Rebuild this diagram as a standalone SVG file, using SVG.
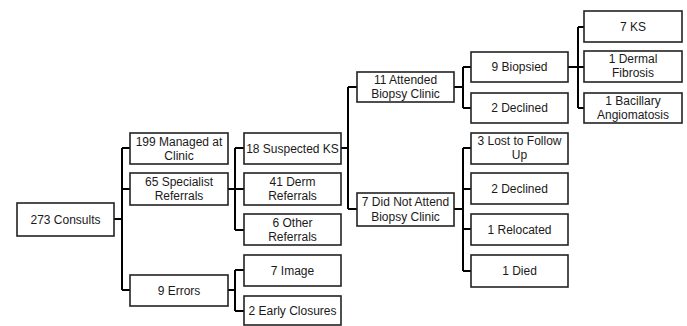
<svg xmlns="http://www.w3.org/2000/svg" width="687" height="326" viewBox="0 0 687 326">
<style>
.b{fill:#fff;stroke:#222;stroke-width:1.6}
.t{font-family:"Liberation Sans",Arial,sans-serif;font-size:12px;fill:#1a1a1a;text-anchor:middle}
.c{fill:none;stroke:#000;stroke-width:2}
</style>
<rect width="687" height="326" fill="#fff"/>
<g id="connectors">
<path class="c" d="M114,219H122M122,148V290M122,148H130M122,189H130M122,290H130" stroke-width="2"/>
<path class="c" d="M114,219H122" stroke-width="3"/>
<path class="c" d="M228,189H235M235,148V230M235,148H244M235,189H244M235,230H244"/>
<path class="c" d="M228,290H235M235,270V311M235,270H244M235,311H244"/>
<path class="c" d="M341,148H348M348,87V209M348,87H357M348,209H357"/>
<path class="c" d="M454,87H463M463,67V108M463,67H471M463,108H471"/>
<path class="c" d="M568,67H578M578,27V108M578,27H584M578,67H584M578,108H584"/>
<path class="c" d="M454,209H463M463,148V271M463,148H471M463,189H471M463,229H471M463,271H471"/>
</g>
<g id="n273"><rect class="b" x="17" y="203" width="97" height="33"/><text class="t" x="65.5" y="224">273 Consults</text></g>
<g id="n199"><rect class="b" x="130" y="133" width="98" height="31"/><text class="t" x="179" y="146">199 Managed at</text><text class="t" x="179" y="160">Clinic</text></g>
<g id="n65"><rect class="b" x="130" y="173" width="98" height="32"/><text class="t" x="179" y="186">65 Specialist</text><text class="t" x="179" y="200">Referrals</text></g>
<g id="n9err"><rect class="b" x="130" y="275" width="98" height="31"/><text class="t" x="179" y="295">9 Errors</text></g>
<g id="n18"><rect class="b" x="244" y="133" width="97" height="31"/><text class="t" x="292.5" y="153">18 Suspected KS</text></g>
<g id="n41"><rect class="b" x="244" y="173" width="97" height="32"/><text class="t" x="292.5" y="186">41 Derm</text><text class="t" x="292.5" y="200">Referrals</text></g>
<g id="n6"><rect class="b" x="244" y="214" width="97" height="31"/><text class="t" x="292.5" y="227">6 Other</text><text class="t" x="292.5" y="241">Referrals</text></g>
<g id="n7img"><rect class="b" x="244" y="255" width="97" height="31"/><text class="t" x="292.5" y="275">7 Image</text></g>
<g id="n2early"><rect class="b" x="244" y="296" width="97" height="29"/><text class="t" x="292.5" y="315">2 Early Closures</text></g>
<g id="n11"><rect class="b" x="357" y="72" width="97" height="30"/><text class="t" x="405.5" y="84">11 Attended</text><text class="t" x="405.5" y="98">Biopsy Clinic</text></g>
<g id="n7dna"><rect class="b" x="357" y="193" width="97" height="33"/><text class="t" x="405.5" y="206">7 Did Not Attend</text><text class="t" x="405.5" y="221">Biopsy Clinic</text></g>
<g id="n9b"><rect class="b" x="471" y="52" width="97" height="30"/><text class="t" x="519.5" y="71">9 Biopsied</text></g>
<g id="n2dec"><rect class="b" x="471" y="93" width="97" height="30"/><text class="t" x="519.5" y="112">2 Declined</text></g>
<g id="n7ks"><rect class="b" x="584" y="11" width="98" height="31"/><text class="t" x="633" y="31">7 KS</text></g>
<g id="n1df"><rect class="b" x="584" y="51" width="98" height="31"/><text class="t" x="633" y="63">1 Dermal</text><text class="t" x="633" y="77">Fibrosis</text></g>
<g id="n1ba"><rect class="b" x="584" y="93" width="98" height="30"/><text class="t" x="633" y="105">1 Bacillary</text><text class="t" x="633" y="119">Angiomatosis</text></g>
<g id="n3lost"><rect class="b" x="471" y="133" width="97" height="31"/><text class="t" x="519.5" y="145">3 Lost to Follow</text><text class="t" x="519.5" y="159">Up</text></g>
<g id="n2dec2"><rect class="b" x="471" y="173" width="97" height="31"/><text class="t" x="519.5" y="193">2 Declined</text></g>
<g id="n1reloc"><rect class="b" x="471" y="214" width="97" height="31"/><text class="t" x="519.5" y="234">1 Relocated</text></g>
<g id="n1died"><rect class="b" x="471" y="255" width="97" height="32"/><text class="t" x="519.5" y="275">1 Died</text></g>
</svg>
